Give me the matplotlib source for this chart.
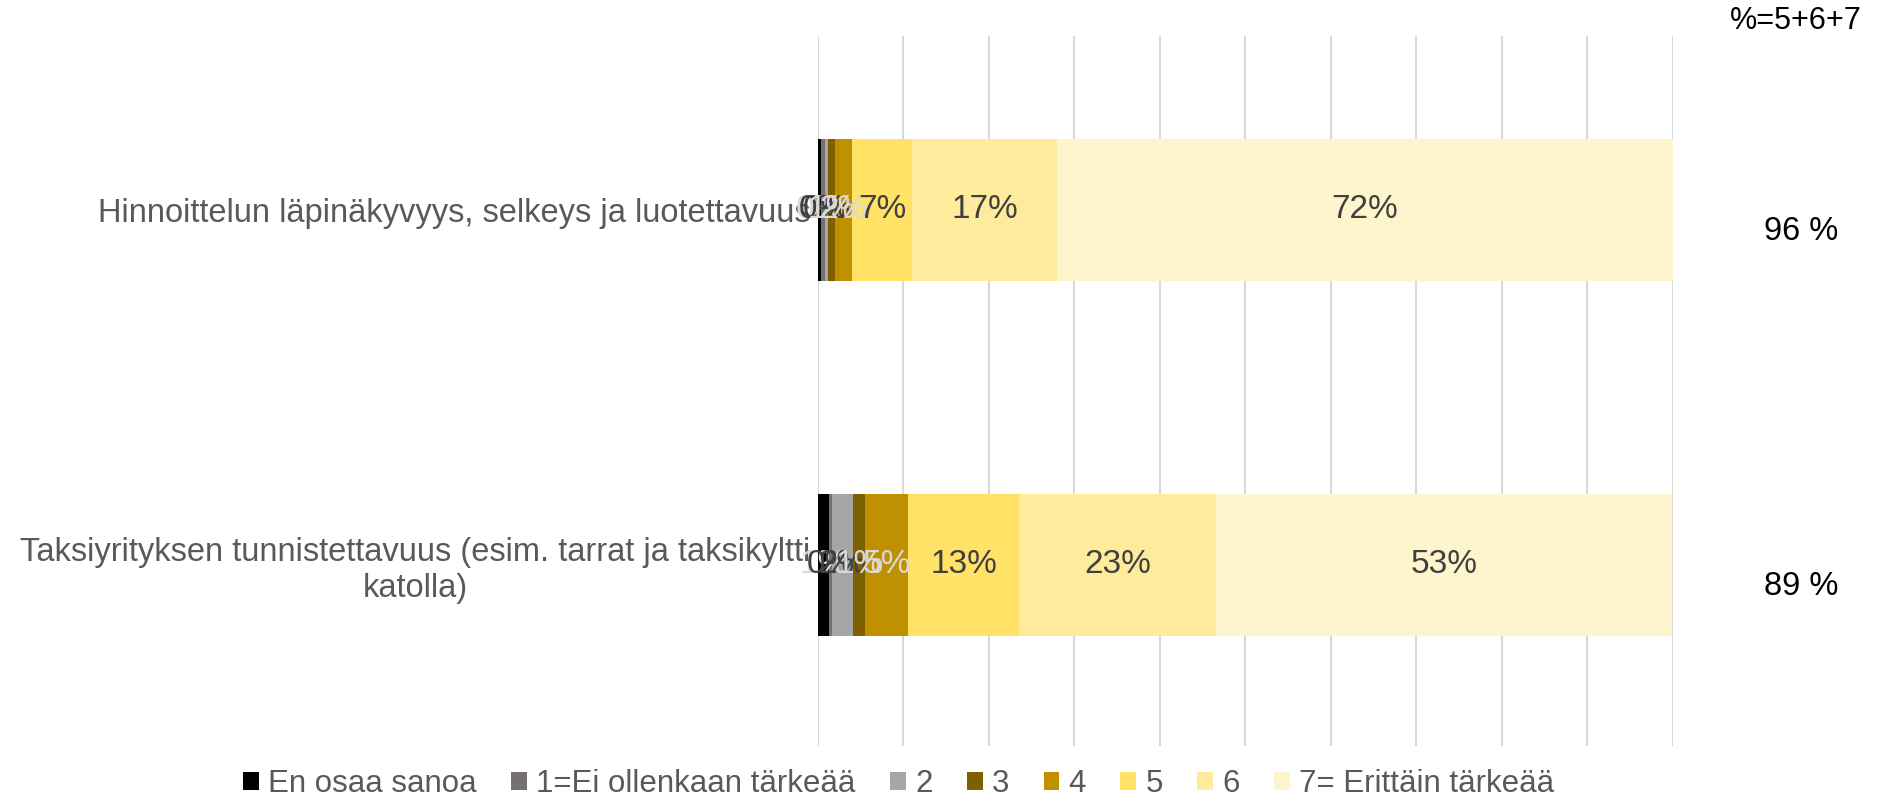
import matplotlib
matplotlib.use('Agg')
import matplotlib.pyplot as plt
import numpy as np

plt.rcParams['font.family'] = ['Liberation Sans', 'DejaVu Sans']

categories = ['Hinnoittelun läpinäkyvyys, selkeys ja luotettavuus',
              'Taksiyrityksen tunnistettavuus (esim. tarrat ja taksikyltti\nkatolla)']
series_names = ['En osaa sanoa', '1=Ei ollenkaan tärkeää', '2', '3', '4', '5', '6',
                '7= Erittäin tärkeää']
# share of answers per series, one value per category (percent)
values = [
    [0.4, 1.3],
    [0.4, 0.35],
    [0.4, 2.5],
    [0.8, 1.4],
    [2.0, 5.0],
    [7.0, 13.0],
    [17.0, 23.0],
    [72.0, 53.4],
]
top3_labels = ['96 %', '89 %']

colors = ['#000000', '#767171', '#a6a6a6', '#7f6000', '#bf9000',
          '#ffe266', '#ffeb9c', '#fff5cc']
label_colors = ['#d9d9d9', '#404040', '#404040', '#d9d9d9', '#d9d9d9',
                '#404040', '#404040', '#404040']

fig = plt.figure(figsize=(18.92, 8.02), dpi=100)
ax = fig.add_axes([0.4323, 0.0698, 0.4519, 0.8853])

y = np.arange(len(categories))
left = np.zeros(len(categories))
for name, vals, c, lc in zip(series_names, values, colors, label_colors):
    vals = np.array(vals)
    bars = ax.barh(y, vals, left=left, height=0.4, color=c, label=name, zorder=3)
    for b, v in zip(bars, vals):
        ax.text(b.get_x() + b.get_width() / 2, b.get_y() + b.get_height() / 2,
                f'{v:.0f}%', ha='center', va='center', fontsize=24, color=lc, zorder=4)
    left += vals

ax.set_xlim(0, 100)
ax.set_ylim(1.51, -0.49)
ax.set_xticks(np.arange(0, 101, 10))
ax.xaxis.grid(True, color='#d9d9d9', linewidth=1.5, zorder=0)
ax.tick_params(axis='x', bottom=False, labelbottom=False)
ax.tick_params(axis='y', left=False, pad=2)
ax.set_yticks(y)
ax.set_yticklabels(categories, fontsize=23.5, color='#595959', ha='right',
                   multialignment='center')
for s in ax.spines.values():
    s.set_visible(False)

# share of 5+6+7 on the right
for yi, t in zip(y, top3_labels):
    ax.text(115, yi + 0.06, t, ha='center', va='center', fontsize=23.5,
            color='black', clip_on=False)
fig.text(0.949, 0.993, '%=5+6+7', ha='center', va='top', fontsize=22, color='black')

leg = fig.legend(loc='center', bbox_to_anchor=(0.475, 0.022), ncol=8, frameon=False,
                 fontsize=22.5, labelcolor='#595959', handlelength=0.5,
                 handleheight=0.5, handletextpad=0.3, columnspacing=1.1,
                 borderpad=0.1)

fig.savefig('out.png', dpi=100)
